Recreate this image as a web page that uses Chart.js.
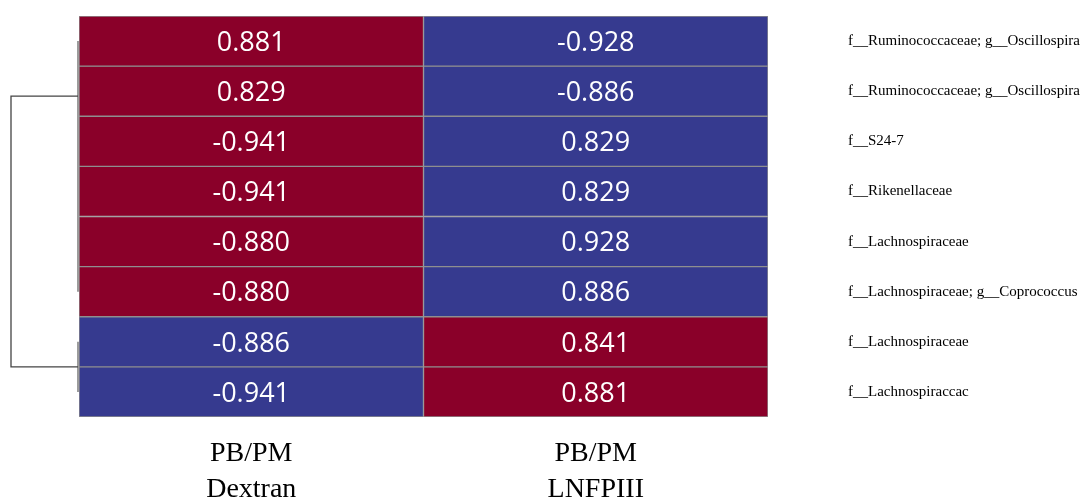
<!DOCTYPE html>
<html>
<head>
<meta charset="utf-8">
<script src="https://cdn.jsdelivr.net/npm/chart.js@4.4.1/dist/chart.umd.min.js"></script>
<style>
  html,body{margin:0;padding:0;background:#fff;}
  #wrap{width:1088px;height:498px;position:relative;}
</style>
</head>
<body>
<div id="wrap"><canvas id="c"></canvas></div>
<script>
// columns (two-line labels) and rows (top to bottom)
const columns = [['PB/PM','Dextran'], ['PB/PM','LNFPIII']];
const rowLabels = [
  'f__Ruminococcaceae; g__Oscillospira',
  'f__Ruminococcaceae; g__Oscillospira',
  'f__S24-7',
  'f__Rikenellaceae',
  'f__Lachnospiraceae',
  'f__Lachnospiraceae; g__Coprococcus',
  'f__Lachnospiraceae',
  'f__Lachnospiraccac'
];
const dextran = [0.881, 0.829, -0.941, -0.941, -0.880, -0.880, -0.886, -0.941];
const lnfpiii = [-0.928, -0.886, 0.829, 0.829, 0.928, 0.886, 0.841, 0.881];
// cell colour group as shown in the figure: r = red, b = blue
const dextranGroup = ['r','r','r','r','r','r','b','b'];
const lnfpiiiGroup = ['b','b','b','b','b','b','r','r'];
// dendrogram clusters: leaf index ranges joined at the root
const clusters = [[0,5],[6,7]];

const RED = '#8A0029', BLUE = '#363A8F', GRID = '#8f8f8f';
const fill = g => g === 'r' ? RED : BLUE;
const SERIF = '"Liberation Serif", "Times New Roman", serif';

const datasets = rowLabels.map((lab, i) => ({
  label: lab,
  data: [1, 1],
  values: [dextran[i], lnfpiii[i]],
  backgroundColor: [fill(dextranGroup[i]), fill(lnfpiiiGroup[i])],
  borderColor: GRID,
  borderWidth: 1,
  borderSkipped: false,
  barPercentage: 1,
  categoryPercentage: 1
}));

const cellText = {
  id: 'cellText',
  afterDatasetsDraw(chart){
    const ctx = chart.ctx;
    ctx.save();
    ctx.fillStyle = '#fff';
    ctx.font = '27px "Open Sans", sans-serif';
    ctx.textAlign = 'center';
    ctx.textBaseline = 'middle';
    chart.data.datasets.forEach((ds, i) => {
      chart.getDatasetMeta(i).data.forEach((bar, j) => {
        const p = bar.getProps(['x','y','base'], true);
        ctx.fillText(ds.values[j].toFixed(3), p.x, (p.y + p.base) / 2 + 2);
      });
    });
    ctx.restore();
  }
};

const dendro = {
  id: 'dendro',
  afterDraw(chart){
    const ctx = chart.ctx, y = chart.scales.y, left = chart.chartArea.left - 1;
    const rootX = 11;
    ctx.save();
    ctx.strokeStyle = '#666';
    ctx.lineWidth = 1.3;
    const joins = clusters.map(([a, b]) => {
      const ya = y.getPixelForValue(a + 0.5), yb = y.getPixelForValue(b + 0.5);
      ctx.beginPath(); ctx.moveTo(left, ya); ctx.lineTo(left, yb); ctx.stroke();
      return (a === 0) ? y.getPixelForValue(1.6) : (ya + yb) / 2;
    });
    ctx.strokeStyle = '#444';
    ctx.beginPath();
    ctx.moveTo(left, joins[0]); ctx.lineTo(rootX, joins[0]);
    ctx.lineTo(rootX, joins[1]); ctx.lineTo(left, joins[1]);
    ctx.stroke();
    ctx.restore();
  }
};

new Chart(document.getElementById('c'), {
  type: 'bar',
  data: { labels: columns, datasets },
  options: {
    responsive: true,
    maintainAspectRatio: false,
    animation: false,
    layout: { padding: { left: 79, top: 16, right: 0, bottom: 0 } },
    plugins: { legend: { display: false }, tooltip: { enabled: false } },
    scales: {
      x: {
        stacked: true,
        grid: { display: false },
        border: { display: false },
        ticks: { color: '#000', padding: 10, font: { family: SERIF, size: 28, lineHeight: 1.3 } },
        afterFit: s => { s.height = 81; }
      },
      y: {
        stacked: true,
        reverse: true,
        position: 'right',
        min: 0, max: rowLabels.length,
        grid: { display: false, drawTicks: true, tickLength: 80 },
        border: { display: false },
        afterBuildTicks: s => { s.ticks = rowLabels.map((_, i) => ({ value: i + 0.5 })); },
        ticks: {
          color: '#000', padding: 0, autoSkip: false,
          font: { family: SERIF, size: 15 },
          callback: (v, i) => rowLabels[i]
        },
        afterFit: s => { s.width = 320; s.paddingTop = 0; s.paddingBottom = 0; }
      }
    }
  },
  plugins: [cellText, dendro]
});
</script>
</body>
</html>
